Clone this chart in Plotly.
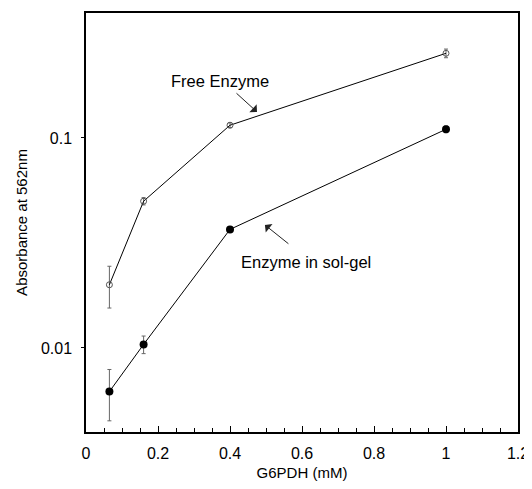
import plotly.graph_objects as go

# G6PDH concentration (mM)
g6pdh = [0.065, 0.16, 0.40, 1.0]

# absorbance at 562 nm
free_abs = [0.020, 0.050, 0.115, 0.253]
free_err = [0.0045, 0.002, 0.003, 0.012]

solgel_abs = [0.0062, 0.0104, 0.0367, 0.110]
solgel_err = [0.0017, 0.001, 0.001, 0.004]

x_ticks = [0, 0.2, 0.4, 0.6, 0.8, 1, 1.2]
x_tick_text = ["0", "0.2", "0.4", "0.6", "0.8", "1", "1.2"]
y_ticks = [0.01, 0.1]
y_tick_text = ["0.01", "0.1"]

fig = go.Figure()

fig.add_trace(go.Scatter(
    x=g6pdh, y=free_abs, mode="lines+markers", name="Free Enzyme",
    line=dict(color="black", width=1),
    marker=dict(symbol="circle-open", size=6, color="#555", line=dict(width=1)),
    error_y=dict(type="data", array=free_err, color="#666", thickness=1, width=2),
))
fig.add_trace(go.Scatter(
    x=g6pdh, y=solgel_abs, mode="lines+markers", name="Enzyme in sol-gel",
    line=dict(color="black", width=1),
    marker=dict(symbol="circle", size=8, color="black"),
    error_y=dict(type="data", array=solgel_err, color="#666", thickness=1, width=2),
))

font = dict(family="Arial, Liberation Sans, sans-serif", size=16, color="black")
label_font = dict(family="Arial, Liberation Sans, sans-serif", size=16.5, color="black")

# text labels
fig.add_annotation(x=0.372, y=-0.727, xref="x", yref="y", text="Free Enzyme",
                   showarrow=False, font=label_font)
fig.add_annotation(x=0.611, y=-1.59, xref="x", yref="y", text="Enzyme in sol-gel",
                   showarrow=False, font=label_font)
# arrows (tip on the data side)
fig.add_annotation(x=0.475, y=-0.876, xref="x", yref="y", text="", showarrow=True,
                   ax=-22, ay=-20, arrowhead=1, arrowsize=1.8, arrowwidth=1,
                   arrowcolor="#222")
fig.add_annotation(x=0.497, y=-1.414, xref="x", yref="y", text="", showarrow=True,
                   ax=25, ay=20, arrowhead=1, arrowsize=1.8, arrowwidth=1,
                   arrowcolor="#222")

# page body has an 8px margin; keep the figure small enough that the page never scrolls
fig.update_layout(
    width=516, height=473,
    margin=dict(l=78, r=6, t=5, b=49),
    plot_bgcolor="white", paper_bgcolor="white",
    showlegend=False,
    font=font,
)
fig.update_xaxes(
    range=[0, 1.2], tickvals=x_ticks, ticktext=x_tick_text,
    ticks="inside", ticklen=6, tickcolor="black", ticklabelstandoff=6,
    ticklabeloverflow="allow", automargin=False,
    minor=dict(dtick=0.05, ticks="inside", ticklen=4, tickcolor="black"),
    showline=True, linecolor="black", linewidth=1.5, mirror=True,
    showgrid=False, zeroline=False,
    title=dict(text="G6PDH (mM)", font=dict(size=15), standoff=7),
)
fig.update_yaxes(
    type="log", range=[-2.4, -0.405], tickvals=y_ticks, ticktext=y_tick_text,
    ticks="outside", ticklen=3, tickcolor="black", ticklabelstandoff=6,
    automargin=False,
    showline=True, linecolor="black", linewidth=1.5, mirror=True,
    showgrid=False, zeroline=False,
    title=dict(text="Absorbance at 562nm", font=dict(size=15), standoff=10),
)

# let the "1.2" tick label spill past the svg edge instead of being cut
fig.write_html(
    "out.html",
    post_script="document.querySelectorAll('svg.main-svg')"
                ".forEach(function(s){s.style.overflow='visible';});",
)
